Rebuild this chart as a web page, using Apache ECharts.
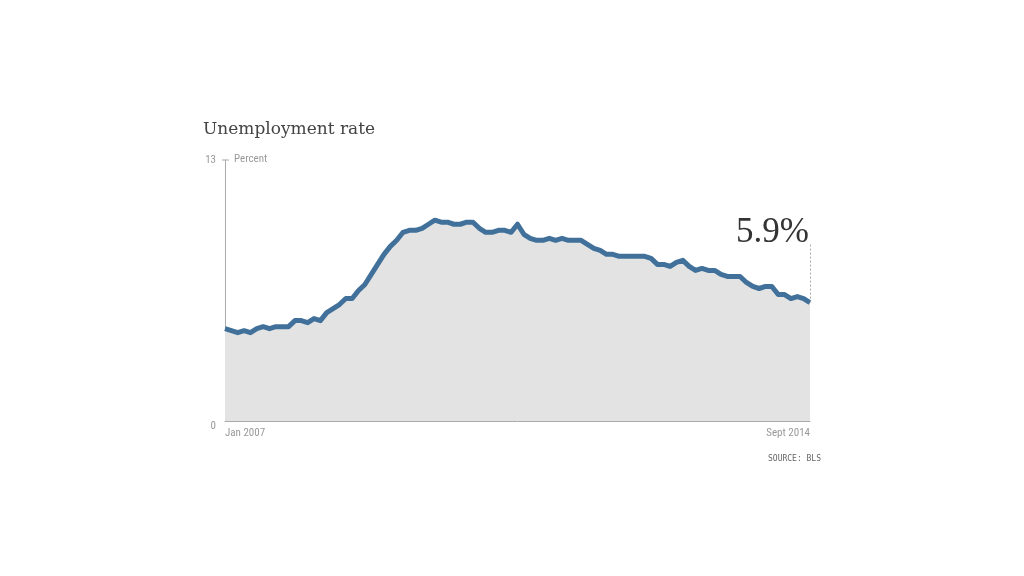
<!DOCTYPE html>
<html>
<head>
<meta charset="utf-8">
<script src="https://cdn.jsdelivr.net/npm/echarts@6/dist/echarts.min.js"></script>
<style>html,body{margin:0;padding:0;background:#fff;}#c{width:1024px;height:576px;}</style>
</head>
<body>
<div id="c"></div>
<script>
var title = "Unemployment rate";
var unitLabel = "Percent";
var sourceText = "SOURCE: BLS";
var months = ["Jan","Feb","Mar","Apr","May","Jun","Jul","Aug","Sept","Oct","Nov","Dec"];
var years = [2007,2008,2009,2010,2011,2012,2013,2014];
var rates = [
  4.6,4.5,4.4,4.5,4.4,4.6,4.7,4.6,4.7,4.7,4.7,5.0,
  5.0,4.9,5.1,5.0,5.4,5.6,5.8,6.1,6.1,6.5,6.8,7.3,
  7.8,8.3,8.7,9.0,9.4,9.5,9.5,9.6,9.8,10.0,9.9,9.9,
  9.8,9.8,9.9,9.9,9.6,9.4,9.4,9.5,9.5,9.4,9.8,9.3,
  9.1,9.0,9.0,9.1,9.0,9.1,9.0,9.0,9.0,8.8,8.6,8.5,
  8.3,8.3,8.2,8.2,8.2,8.2,8.2,8.1,7.8,7.8,7.7,7.9,
  8.0,7.7,7.5,7.6,7.5,7.5,7.3,7.2,7.2,7.2,6.9,6.7,
  6.6,6.7,6.7,6.3,6.3,6.1,6.2,6.1,5.9
];
var yTicks = [0, 13];
var lastLabel = "5.9%";
var leaderTop = 8.8;

var categories = [];
for (var i = 0; i < rates.length; i++) {
  categories.push(months[i % 12] + " " + years[Math.floor(i / 12)]);
}
var lastCat = categories[categories.length - 1];
var lastVal = rates[rates.length - 1];

var chart = echarts.init(document.getElementById('c'));
var condensed = '"Liberation Sans Narrow", "Roboto Condensed", "Liberation Sans", sans-serif';
chart.setOption({
  animation: false,
  backgroundColor: '#fff',
  title: {
    text: title, left: 198, top: 116,
    textStyle: { fontFamily: '"DejaVu Serif", serif', fontWeight: 'normal', fontSize: 17, color: '#444' }
  },
  grid: { left: 225, right: 214, top: 160, bottom: 155, containLabel: false },
  xAxis: {
    type: 'category', data: categories, boundaryGap: false,
    axisLine: { lineStyle: { color: '#aaa', width: 1 } },
    axisTick: { show: false },
    axisLabel: {
      interval: function (idx) { return idx === 0 || idx === categories.length - 1; },
      alignMinLabel: 'left', alignMaxLabel: 'right',
      color: '#999', fontSize: 11, fontFamily: condensed, margin: 7
    },
    splitLine: { show: false }
  },
  yAxis: {
    type: 'value', min: yTicks[0], max: yTicks[1], interval: 13,
    axisLine: { show: true, lineStyle: { color: '#aaa', width: 1 } },
    axisTick: { show: false },
    axisLabel: {
      color: '#999', fontSize: 11, fontFamily: condensed, margin: 9,
      formatter: function (v) { return v === 0 ? '{low|0}' : String(v); },
      rich: { low: { color: '#999', fontSize: 11, fontFamily: condensed, padding: [10, 0, 0, 0] } }
    },
    splitLine: { show: false }
  },
  series: [{
    type: 'line', data: rates, symbol: 'none', smooth: false,
    lineStyle: { color: '#41719a', width: 5, join: 'round' },
    areaStyle: { color: '#e3e3e3', opacity: 1 },
    markLine: {
      silent: true, symbol: 'none',
      lineStyle: { color: '#aaa', type: [2, 2], width: 1 },
      label: { show: false },
      data: [[{ coord: [lastCat, lastVal] }, { coord: [lastCat, leaderTop] }]]
    },
    z: 2
  }]
});

var p13 = chart.convertToPixel({ yAxisIndex: 0 }, 13);
var x0 = chart.convertToPixel({ xAxisIndex: 0 }, categories[0]);
var xN = chart.convertToPixel({ xAxisIndex: 0 }, lastCat);
var p0 = chart.convertToPixel({ yAxisIndex: 0 }, 0);
var pTop = chart.convertToPixel({ yAxisIndex: 0 }, leaderTop);
chart.setOption({
  graphic: [
    { type: 'line', shape: { x1: x0 - 3, y1: p13, x2: x0 + 4, y2: p13 }, style: { stroke: '#aaa', lineWidth: 1 } },
    { type: 'text', left: x0 + 9, top: p13 - 6, style: { text: unitLabel, fill: '#999', font: '11px ' + condensed } },
    { type: 'text', x: xN - 1, y: pTop + 6, style: { text: lastLabel, fill: '#333', font: '35px "Liberation Serif", serif', textAlign: 'right', textVerticalAlign: 'bottom' } },
    { type: 'text', right: 1024 - xN - 11, top: p0 + 34, style: { text: sourceText, fill: '#666', font: '8px "DejaVu Sans Mono", monospace' } }
  ]
});
</script>
</body>
</html>
